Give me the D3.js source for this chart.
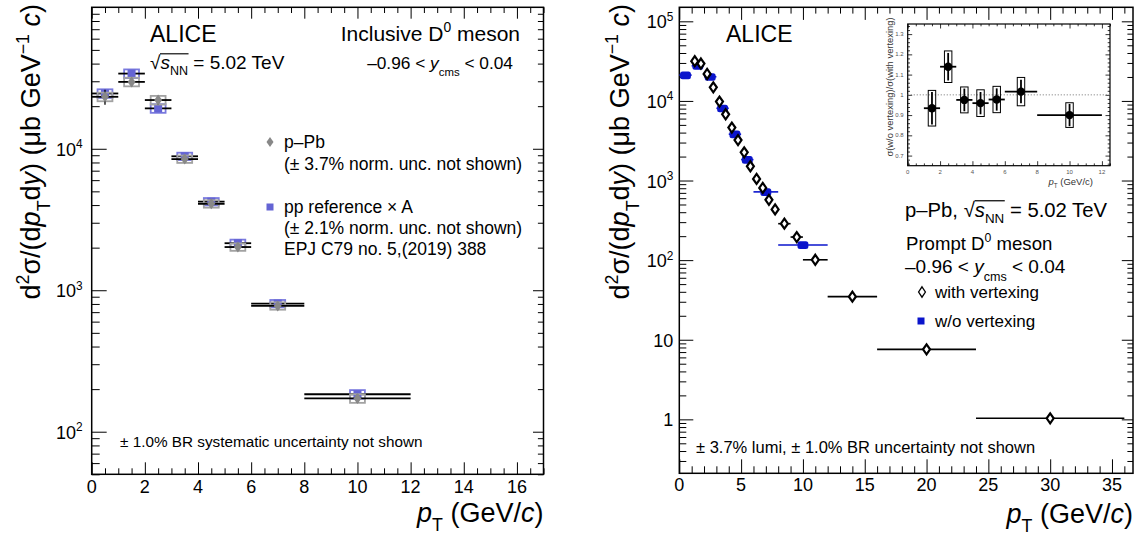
<!DOCTYPE html>
<html><head><meta charset="utf-8">
<script src="https://cdn.jsdelivr.net/npm/d3@7"></script>
<style>
body{margin:0;background:#fff}
svg{display:block}
text{font-family:"Liberation Sans",Arial,Helvetica,sans-serif;fill:#000}
</style>
</head><body>
<svg id="c" width="1141" height="539"></svg>
<script>
// ---------------- DATA ----------------
// Left panel: inclusive D0, p-Pb vs pp reference x A
const leftBinLo = [0, 1, 2, 3, 4, 5, 6, 8];
const leftBinHi = [1, 2, 3, 4, 5, 6, 8, 12];
const pPbValues = [23300, 29700, 22100, 8450, 4080, 2020, 775, 172];
const pPbStatRel = [0.12, 0.07, 0.07, 0.04, 0.04, 0.05, 0.05, 0.07];
const pPbSysRel = [0.07, 0.07, 0.07, 0.06, 0.06, 0.06, 0.06, 0.07];
const ppRefValues = [24600, 34000, 19300, 8850, 4230, 2150, 805, 184];
const ppRefStatRel = [0.05, 0.05, 0.05, 0.03, 0.03, 0.04, 0.04, 0.05];
const ppRefSysRel = [0.07, 0.07, 0.07, 0.06, 0.06, 0.06, 0.06, 0.07];
const leftXTicks = [0, 2, 4, 6, 8, 10, 12, 14, 16];
const leftYTicks = [100, 1000, 10000];

// Right panel: prompt D0, with / without vertexing
const vtxLo = [1, 1.5, 2, 2.5, 3, 3.5, 4, 4.5, 5, 5.5, 6, 6.5, 7, 7.5, 8, 9, 10, 12, 16, 24];
const vtxHi = [1.5, 2, 2.5, 3, 3.5, 4, 4.5, 5, 5.5, 6, 6.5, 7, 7.5, 8, 9, 10, 12, 16, 24, 36];
const vtxValues = [31600, 29500, 21800, 14800, 9800, 6800, 4630, 3220, 2260, 1510, 1047, 808, 572, 434, 287, 195, 101, 34.8, 7.57, 1.03];
const vtxStatRel = [0.06, 0.05, 0.05, 0.05, 0.05, 0.05, 0.05, 0.05, 0.05, 0.05, 0.05, 0.05, 0.06, 0.06, 0.06, 0.07, 0.08, 0.09, 0.10, 0.14];
const noVtxLo = [0, 1, 2, 3, 4, 5, 6, 8];
const noVtxHi = [1, 2, 3, 4, 5, 6, 8, 12];
const noVtxValues = [21100, 27600, 20100, 8080, 3820, 1830, 720, 155];
const noVtxSysRel = [0.11, 0.11, 0.11, 0.11, 0.11, 0.11, 0.11, 0.11];
const rightXTicks = [0, 5, 10, 15, 20, 25, 30, 35];
const rightYTicks = [1, 10, 100, 1000, 10000, 100000];

// Inset: ratio w/o vertexing / with vertexing
const ratioLo = [1, 2, 3, 4, 5, 6, 8];
const ratioHi = [2, 3, 4, 5, 6, 8, 12];
const ratioValues = [0.934, 1.139, 0.975, 0.959, 0.977, 1.016, 0.900];
const ratioStat = [0.080, 0.068, 0.056, 0.055, 0.055, 0.058, 0.055];
const ratioSys = [0.088, 0.078, 0.064, 0.066, 0.065, 0.070, 0.061];
const insetXTicks = [0, 2, 4, 6, 8, 10, 12];
const insetYTicks = [0.7, 0.8, 0.9, 1.0, 1.1, 1.2, 1.3];

// ---------------- HELPERS ----------------
const svg = d3.select('#c');

function addRich(parent, x, y, parts, fs, anchor, subShift) {
  const t = parent.append('text').attr('x', x).attr('y', y)
    .attr('font-size', fs).attr('text-anchor', anchor || 'start');
  let off = 0;
  const ss = subShift || 0.36;
  const res = {t, ovs: [], sq: null, y, fs};
  parts.forEach(p => {
    if (typeof p === 'string') p = {t: p};
    const target = p.sup ? -0.42 * fs : (p.sub ? ss * fs : 0);
    const ts = t.append('tspan').attr('dy', +(target - off).toFixed(2)).text(p.t);
    off = target;
    if (p.sup || p.sub) ts.attr('font-size', +(fs * 0.66).toFixed(2));
    if (p.it) ts.attr('font-style', 'italic');
    if (p.ov) res.ovs.push(ts);
    if (p.sqrt) res.sq = ts;
  });
  return res;
}
function drawOverline(parent, res) {
  if (!res.sq || !res.ovs.length) return;
  const sb = res.sq.node().getBBox();
  const lb = res.ovs[res.ovs.length - 1].node().getBBox();
  const yy = res.y - 0.80 * res.fs;
  parent.append('line').attr('x1', sb.x + sb.width - 1).attr('x2', lb.x + lb.width + 0.5)
    .attr('y1', yy).attr('y2', yy).attr('stroke', '#000').attr('stroke-width', Math.max(1, res.fs * 0.06));
}
function logMinors(dom) {
  const out = [];
  for (let e = Math.floor(Math.log10(dom[0])) ; e <= Math.ceil(Math.log10(dom[1])); e++) {
    for (let k = 2; k <= 9; k++) {
      const v = k * Math.pow(10, e);
      if (v >= dom[0] && v <= dom[1]) out.push(v);
    }
  }
  return out;
}
function linMinors(dom, step, majorStep) {
  const out = [];
  const n = Math.round((dom[1] - dom[0]) / step);
  for (let i = 0; i <= n; i++) {
    const v = +(dom[0] + i * step).toFixed(6);
    const r = v / majorStep;
    if (Math.abs(r - Math.round(r)) > 1e-6 && v <= dom[1]) out.push(v);
  }
  return out;
}
function frame(g, x, y, box, o) {
  const mk = (axis, tr, vals, len) => {
    const a = g.append('g').attr('transform', tr)
      .call(axis.tickValues(vals).tickSize(-len).tickFormat(() => ''));
    a.select('.domain').remove();
    a.selectAll('line').attr('stroke', '#000').attr('stroke-width', o.tw || 1);
    a.selectAll('text').remove();
  };
  mk(d3.axisBottom(x), `translate(0,${box.y1})`, o.xMaj, o.xMajL);
  mk(d3.axisBottom(x), `translate(0,${box.y1})`, o.xMin, o.xMinL);
  mk(d3.axisTop(x), `translate(0,${box.y0})`, o.xMaj, o.xMajL * o.topF);
  mk(d3.axisTop(x), `translate(0,${box.y0})`, o.xMin, o.xMinL * o.topF);
  mk(d3.axisLeft(y), `translate(${box.x0},0)`, o.yMaj, o.yMajL);
  mk(d3.axisLeft(y), `translate(${box.x0},0)`, o.yMin, o.yMinL);
  mk(d3.axisRight(y), `translate(${box.x1},0)`, o.yMaj, o.yMajL * o.rightF);
  mk(d3.axisRight(y), `translate(${box.x1},0)`, o.yMin, o.yMinL * o.rightF);
  g.append('rect').attr('x', box.x0).attr('y', box.y0)
    .attr('width', box.x1 - box.x0).attr('height', box.y1 - box.y0)
    .attr('fill', 'none').attr('stroke', '#000').attr('stroke-width', o.fw || 1.5);
}
function diamond(w, h) { return `M0,${-h}L${w},0L0,${h}L${-w},0Z`; }
function pow10Label(parent, x, y, v, fs, anchor) {
  const e = Math.round(Math.log10(v));
  if (e === 0) return addRich(parent, x, y, ['1'], fs, anchor);
  if (e === 1) return addRich(parent, x, y, ['10'], fs, anchor);
  return addRich(parent, x, y, ['10', {t: String(e), sup: true}], fs, anchor);
}
const yTitleParts = ['d', {t: '2', sup: true}, 'σ/(d', {t: 'p', it: true}, {t: 'T', sub: true}, 'd', {t: 'y', it: true},
  ') (μb GeV', {t: '−1', sup: true}, ' ', {t: 'c', it: true}, ')'];
const xTitleParts = [{t: 'p', it: true}, {t: 'T', sub: true}, ' (GeV/', {t: 'c', it: true}, ')'];

// ---------------- LEFT PANEL ----------------
const L = {x0: 91.7, x1: 543.5, y0: 7.3, y1: 474.3};
const xL = d3.scaleLinear().domain([0, 17]).range([L.x0, L.x1]);
const yL = d3.scaleLog().domain([50, 1e5]).range([L.y1, L.y0]);
const gL = svg.append('g');

frame(gL, xL, yL, L, {
  xMaj: leftXTicks, xMin: linMinors([0, 17], 0.5, 2), xMajL: 12, xMinL: 6, topF: 0.95,
  yMaj: leftYTicks, yMin: logMinors([50, 1e5]), yMajL: 15, yMinL: 8, rightF: 0.7
});
leftXTicks.forEach(v => addRich(gL, xL(v), 493, [String(v)], 18, 'middle'));
leftYTicks.forEach(v => pow10Label(gL, L.x0 - 9, yL(v) + 7, v, 18, 'end'));

const gLT = gL.append('g').attr('transform', 'translate(40,4) rotate(-90)');
addRich(gLT, 0, 0, yTitleParts, 27, 'end');
addRich(gL, L.x1, 522, xTitleParts, 27, 'end', 0.32);

function drawLeftSeries(vals, stat, sys, boxColor, markerColor, shape) {
  const g = gL.append('g');
  vals.forEach((v, i) => {
    const c = (leftBinLo[i] + leftBinHi[i]) / 2;
    g.append('rect').attr('x', xL(c - 0.28)).attr('width', xL(c + 0.28) - xL(c - 0.28))
      .attr('y', yL(v * (1 + sys[i]))).attr('height', yL(v * (1 - sys[i])) - yL(v * (1 + sys[i])))
      .attr('fill', 'none').attr('stroke', boxColor).attr('stroke-width', 1.8);
    g.append('line').attr('x1', xL(leftBinLo[i])).attr('x2', xL(leftBinHi[i]))
      .attr('y1', yL(v)).attr('y2', yL(v)).attr('stroke', '#000').attr('stroke-width', 1.8);
    g.append('line').attr('x1', xL(c)).attr('x2', xL(c))
      .attr('y1', yL(v * (1 - stat[i]))).attr('y2', yL(v * (1 + stat[i])))
      .attr('stroke', '#000').attr('stroke-width', 1.3);
    if (shape === 'sq') {
      g.append('rect').attr('x', xL(c) - 4).attr('y', yL(v) - 4).attr('width', 8).attr('height', 8).attr('fill', markerColor);
    } else {
      g.append('path').attr('d', diamond(4, 5.5)).attr('transform', `translate(${xL(c)},${yL(v)})`).attr('fill', markerColor);
    }
  });
}
drawLeftSeries(ppRefValues, ppRefStatRel, ppRefSysRel, '#7a7ade', '#6464d4', 'sq');
drawLeftSeries(pPbValues, pPbStatRel, pPbSysRel, '#a2a2a2', '#888888', 'dia');

// left texts
addRich(gL, 150, 42, ['ALICE'], 23);
const rL = addRich(gL, 150, 69, [{t: '√', sqrt: true}, {t: 's', it: true, ov: true}, {t: 'NN', sub: true, ov: true}, ' = 5.02 TeV'], 19, 'start', 0.3);
drawOverline(gL, rL);
addRich(gL, 520, 41, ['Inclusive D', {t: '0', sup: true}, ' meson'], 21, 'end');
addRich(gL, 513, 69, ['–0.96 < ', {t: 'y', it: true}, {t: 'cms', sub: true}, ' < 0.04'], 17.3, 'end', 0.42);
// legend
gL.append('path').attr('d', diamond(3.5, 5)).attr('transform', 'translate(270,142)').attr('fill', '#888888');
addRich(gL, 284, 148, ['p–Pb'], 17.5);
addRich(gL, 284, 170, ['(± 3.7% norm. unc. not shown)'], 17.5);
gL.append('rect').attr('x', 266.5).attr('y', 203.5).attr('width', 7).attr('height', 7).attr('fill', '#6464d4');
addRich(gL, 284, 213, ['pp reference × A'], 17.5);
addRich(gL, 284, 234, ['(± 2.1% norm. unc. not shown)'], 17.5);
addRich(gL, 284, 255, ['EPJ C79 no. 5,(2019) 388'], 17.5);
addRich(gL, 120, 447, ['± 1.0% BR systematic uncertainty not shown'], 15.3);

// ---------------- RIGHT PANEL ----------------
const R = {x0: 679.3, x1: 1133, y0: 7.3, y1: 473.3};
const xR = d3.scaleLinear().domain([0, 36.7]).range([R.x0, R.x1]);
const yR = d3.scaleLog().domain([0.21, 1.5e5]).range([R.y1, R.y0]);
const gR = svg.append('g');

frame(gR, xR, yR, R, {
  xMaj: rightXTicks, xMin: linMinors([0, 36.7], 1, 5), xMajL: 14, xMinL: 7, topF: 0.9,
  yMaj: rightYTicks, yMin: logMinors([0.21, 1.5e5]), yMajL: 14, yMinL: 7, rightF: 0.8
});
rightXTicks.forEach(v => addRich(gR, xR(v), 491, [String(v)], 18, 'middle'));
rightYTicks.forEach(v => pow10Label(gR, R.x0 - 6, yR(v) + 7, v, 18, 'end'));

const gRT = gR.append('g').attr('transform', 'translate(629,4) rotate(-90)');
addRich(gRT, 0, 0, yTitleParts, 27, 'end');
addRich(gR, R.x1, 523, xTitleParts, 27, 'end', 0.32);

// w/o vertexing (blue)
const blue = '#0a14cc';
noVtxValues.forEach((v, i) => {
  const c = (noVtxLo[i] + noVtxHi[i]) / 2;
  gR.append('line').attr('x1', xR(noVtxLo[i])).attr('x2', xR(noVtxHi[i]))
    .attr('y1', yR(v)).attr('y2', yR(v)).attr('stroke', blue).attr('stroke-width', 1.6);
  gR.append('rect').attr('x', xR(c - 0.44)).attr('width', xR(c + 0.44) - xR(c - 0.44))
    .attr('y', yR(v * (1 + noVtxSysRel[i]))).attr('height', yR(v * (1 - noVtxSysRel[i])) - yR(v * (1 + noVtxSysRel[i])))
    .attr('rx', 2.5).attr('fill', blue);
});
// with vertexing (open diamonds)
vtxValues.forEach((v, i) => {
  const c = (vtxLo[i] + vtxHi[i]) / 2;
  gR.append('line').attr('x1', xR(vtxLo[i])).attr('x2', xR(vtxHi[i]))
    .attr('y1', yR(v)).attr('y2', yR(v)).attr('stroke', '#000').attr('stroke-width', 1.6);
  gR.append('line').attr('x1', xR(c)).attr('x2', xR(c))
    .attr('y1', yR(v * (1 - vtxStatRel[i]))).attr('y2', yR(v * (1 + vtxStatRel[i])))
    .attr('stroke', '#000').attr('stroke-width', 1.3);
  gR.append('path').attr('d', diamond(3.5, 5)).attr('transform', `translate(${xR(c)},${yR(v)})`)
    .attr('fill', '#fff').attr('stroke', '#000').attr('stroke-width', 2.2);
});

// right texts
addRich(gR, 726, 42, ['ALICE'], 23);
const rR = addRich(gR, 905, 217, ['p–Pb, ', {t: '√', sqrt: true}, {t: 's', it: true, ov: true}, {t: 'NN', sub: true, ov: true}, ' = 5.02 TeV'], 20.3, 'start', 0.3);
drawOverline(gR, rR);
addRich(gR, 906, 250, ['Prompt D', {t: '0', sup: true}, ' meson'], 18.6);
addRich(gR, 905, 273, ['–0.96 < ', {t: 'y', it: true}, {t: 'cms', sub: true}, ' < 0.04'], 19, 'start', 0.42);
gR.append('path').attr('d', diamond(3.4, 5.2)).attr('transform', 'translate(922,292)')
  .attr('fill', '#fff').attr('stroke', '#000').attr('stroke-width', 1.3);
addRich(gR, 935, 298, ['with vertexing'], 17);
gR.append('rect').attr('x', 917.5).attr('y', 317.5).attr('width', 7).attr('height', 7).attr('fill', blue);
addRich(gR, 935, 327, ['w/o vertexing'], 17);
addRich(gR, 696, 453, ['± 3.7% lumi, ± 1.0% BR uncertainty not shown'], 16.5);

// ---------------- INSET ----------------
const I = {x0: 907.7, x1: 1110, y0: 24, y1: 165.7};
const xI = d3.scaleLinear().domain([0, 12.5]).range([I.x0, I.x1]);
const yI = d3.scaleLinear().domain([0.65, 1.35]).range([I.y1, I.y0]);
const gI = svg.append('g');
gI.append('rect').attr('x', I.x0).attr('y', I.y0).attr('width', I.x1 - I.x0).attr('height', I.y1 - I.y0).attr('fill', '#fff');
frame(gI, xI, yI, I, {
  xMaj: insetXTicks, xMin: linMinors([0, 12.5], 0.5, 2), xMajL: 4.5, xMinL: 2.3, topF: 1,
  yMaj: insetYTicks, yMin: linMinors([0.66, 1.34], 0.02, 0.1), yMajL: 4.5, yMinL: 2.3, rightF: 1, fw: 1.2, tw: 0.8
});
insetXTicks.forEach(v => gI.append('text').attr('x', xI(v)).attr('y', 174).attr('font-size', 6)
  .attr('text-anchor', 'middle').style('fill', '#555').text(v));
insetYTicks.forEach(v => gI.append('text').attr('x', I.x0 - 4).attr('y', yI(v) + 2).attr('font-size', 6)
  .attr('text-anchor', 'end').style('fill', '#555').text(v === 1 ? '1' : v.toFixed(1)));
gI.append('line').attr('x1', xI(0)).attr('x2', xI(12.5)).attr('y1', yI(1)).attr('y2', yI(1))
  .attr('stroke', '#888').attr('stroke-width', 1).attr('stroke-dasharray', '1.2,1.8');
ratioValues.forEach((v, i) => {
  const c = (ratioLo[i] + ratioHi[i]) / 2;
  gI.append('rect').attr('x', xI(c - 0.23)).attr('width', xI(c + 0.23) - xI(c - 0.23))
    .attr('y', yI(v + ratioSys[i])).attr('height', yI(v - ratioSys[i]) - yI(v + ratioSys[i]))
    .attr('fill', 'none').attr('stroke', '#000').attr('stroke-width', 1);
  gI.append('line').attr('x1', xI(ratioLo[i])).attr('x2', xI(ratioHi[i]))
    .attr('y1', yI(v)).attr('y2', yI(v)).attr('stroke', '#000').attr('stroke-width', 1.8);
  gI.append('line').attr('x1', xI(c)).attr('x2', xI(c))
    .attr('y1', yI(v - ratioStat[i])).attr('y2', yI(v + ratioStat[i])).attr('stroke', '#000').attr('stroke-width', 1.8);
  gI.append('circle').attr('cx', xI(c)).attr('cy', yI(v)).attr('r', 4.2).attr('fill', '#000');
});
const gIT = gI.append('g').attr('transform', 'translate(893,87) rotate(-90)');
gIT.append('text').attr('x', 0).attr('y', 0).attr('font-size', 9.4).attr('text-anchor', 'middle').style('fill', '#333')
  .text('σ(w/o vertexing)/σ(with vertexing)');
const rIx = addRich(gI, 1093, 185, [{t: 'p', it: true}, {t: 'T', sub: true}, ' (GeV/c)'], 9.5, 'end');
rIx.t.style('fill', '#333');
</script>
</body></html>
